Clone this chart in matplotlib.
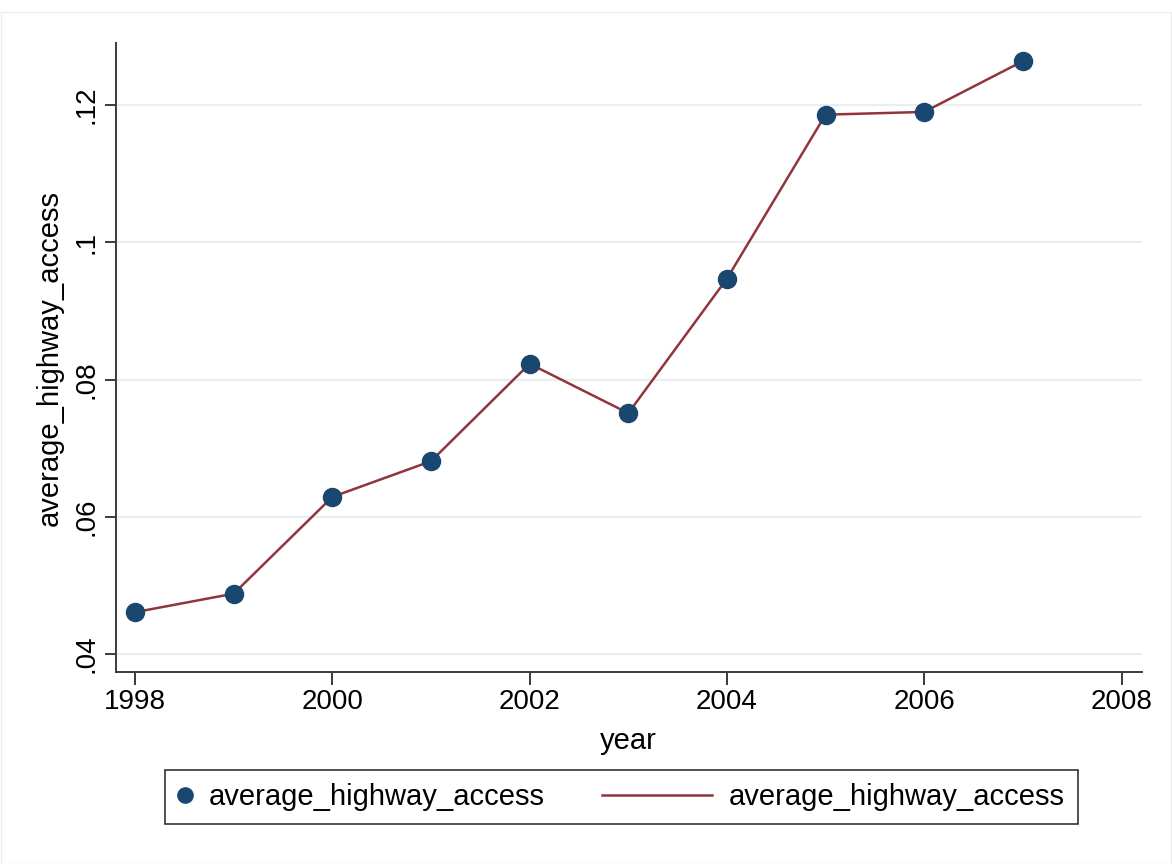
import matplotlib
matplotlib.use("Agg")
import numpy as np
import matplotlib.pyplot as plt
from matplotlib.lines import Line2D
from matplotlib.patches import Rectangle
from matplotlib.legend_handler import HandlerLine2D

plt.rcParams['font.family'] = ['Liberation Sans', 'DejaVu Sans']

years = [1998, 1999, 2000, 2001, 2002, 2003, 2004, 2005, 2006, 2007]
average_highway_access = [0.0461, 0.0488, 0.0629, 0.0681, 0.0823, 0.0751,
                          0.0947, 0.1186, 0.1190, 0.1264]
x_ticks = [1998, 2000, 2002, 2004, 2006, 2008]
y_ticks = [0.04, 0.06, 0.08, 0.10, 0.12]
y_tick_labels = ['.04', '.06', '.08', '.1', '.12']

navy = '#1a476f'
maroon = '#90353b'


class LongLineHandler(HandlerLine2D):
    """Legend line key that extends to the left of a narrow handle box."""

    def __init__(self, length_pt, **kw):
        super().__init__(**kw)
        self.length_pt = length_pt

    def create_artists(self, legend, orig_handle, xdescent, ydescent,
                       width, height, fontsize, trans):
        y = (height - ydescent) / 2.0
        x1 = -xdescent + width
        line = Line2D([x1 - self.length_pt, x1], [y, y])
        self.update_prop(line, orig_handle, legend)
        line.set_marker('None')
        line.set_transform(trans)
        return [line]


fig = plt.figure(figsize=(11.72, 8.64), dpi=100)
fig.patch.set_facecolor('white')
fig.patches.append(Rectangle((0.0005, 0.0), 0.999, 0.986, transform=fig.transFigure,
                             fill=False, edgecolor='#eeeeee', linewidth=1))

ax = fig.add_axes([0.099, 0.2222, 0.875, 0.728])
ax.plot(years, average_highway_access, color=maroon, linewidth=1.8, zorder=2)
ax.plot(years, average_highway_access, linestyle='none', marker='o',
        markersize=13, color=navy, zorder=3)

ax.set_xlim(1997.807, 2008.203)
ax.set_ylim(0.03738, 0.12904)
ax.set_xticks(x_ticks)
ax.set_xticklabels([str(t) for t in x_ticks])
ax.set_yticks(y_ticks)
ax.set_yticklabels(y_tick_labels, rotation=90, va='center')

ax.grid(axis='y', color='#e6eff1', linewidth=1.6)
ax.set_axisbelow(True)
for side in ('top', 'right'):
    ax.spines[side].set_visible(False)
for side in ('left', 'bottom'):
    ax.spines[side].set_color('#3a3a3a')
    ax.spines[side].set_linewidth(1.4)
ax.tick_params(axis='both', width=1.4, color='#3a3a3a',
               labelsize=20, labelcolor='black')
ax.tick_params(axis='x', length=9, pad=3)
ax.tick_params(axis='y', length=8, pad=3.6)

ax.set_xlabel('year', fontsize=21, labelpad=9)
ax.set_ylabel('average_highway_access', fontsize=21, labelpad=7)

marker_key = Line2D([], [], linestyle='none', marker='o', markersize=11, color=navy)
line_key = Line2D([], [], color=maroon, linewidth=1.8)
leg = fig.legend([marker_key, line_key],
                 ['average_highway_access', 'average_highway_access'],
                 handler_map={line_key: LongLineHandler(length_pt=79)},
                 loc='upper left', bbox_to_anchor=(165 / 1172, 1 - 770 / 864),
                 ncol=2, fontsize=21, frameon=True, fancybox=False,
                 edgecolor='black', handlelength=0.45, columnspacing=5.27,
                 handletextpad=0.6, borderpad=0.45, borderaxespad=0)
leg.get_frame().set_linewidth(1.2)

fig.savefig('out.png', dpi=100, facecolor='white')
